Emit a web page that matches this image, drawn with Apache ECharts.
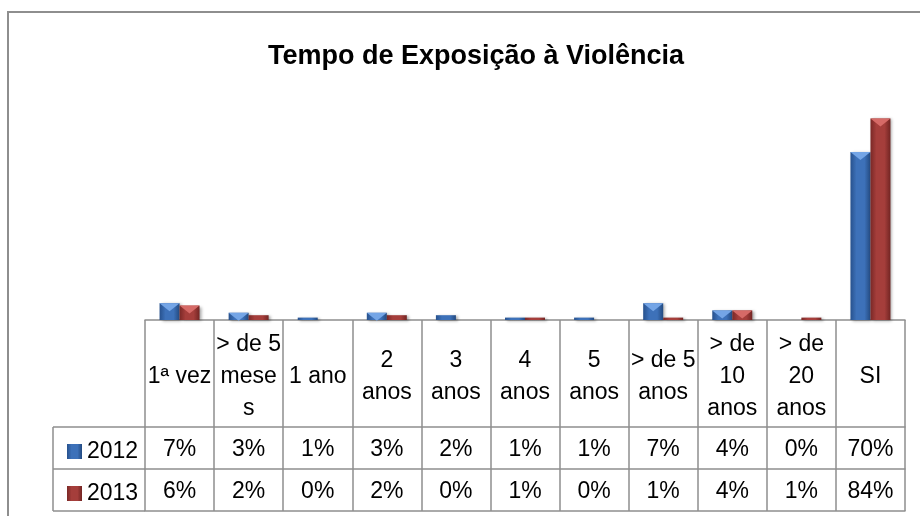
<!DOCTYPE html>
<html><head><meta charset="utf-8">
<script src="https://cdn.jsdelivr.net/npm/echarts@6/dist/echarts.min.js"></script>
<style>html,body{margin:0;padding:0;background:#fff}#c{width:920px;height:516px}</style>
</head><body><div id="c"></div>
<script>
const chartTitle = 'Tempo de Exposição à Violência';
const categories = ['1ª vez', '> de 5\nmese\ns', '1 ano', '2\nanos', '3\nanos', '4\nanos', '5\nanos', '> de 5\nanos', '> de\n10\nanos', '> de\n20\nanos', 'SI'];
const seriesNames = ['2012', '2013'];
const values2012 = [7, 3, 1, 3, 2, 1, 1, 7, 4, 0, 70];
const values2013 = [6, 2, 0, 2, 0, 1, 0, 1, 4, 1, 84];

const FONT = '"Liberation Sans", Arial, sans-serif';
const LINE = '#8e8e8e';
const GRID_LEFT = 145, GRID_RIGHT = 15, GRID_TOP = 80, GRID_BOTTOM = 196;
const HEADER_H = 107, ROW_H = 42;
const LEG_LEFT = 53;
const FLOOR = 516 - GRID_BOTTOM;

const blueGrad = new echarts.graphic.LinearGradient(0, 0, 1, 0, [
  {offset: 0, color: '#27518d'}, {offset: 0.3, color: '#3d71b9'},
  {offset: 0.7, color: '#3d71b9'}, {offset: 1, color: '#234a80'}]);
const redGrad = new echarts.graphic.LinearGradient(0, 0, 1, 0, [
  {offset: 0, color: '#7a2826'}, {offset: 0.3, color: '#a53e3b'},
  {offset: 0.7, color: '#a53e3b'}, {offset: 1, color: '#722523'}]);

const pct = v => v + '%';
const bevel = arr => arr.map(v => (v >= 3 ? v : '-'));

const tableAxis = (offset, vals, showLabel) => ({
  type: 'category', data: vals, gridIndex: 0, position: 'bottom', offset: offset,
  axisLine: {show: true, lineStyle: {color: LINE, width: 1.5}},
  axisTick: {show: false},
  axisLabel: {show: showLabel, interval: 0, margin: ROW_H / 2 + 2, verticalAlign: 'middle',
    fontFamily: FONT, fontSize: 23, color: '#000'}
});

const chart = echarts.init(document.getElementById('c'));
chart.setOption({
  animation: false,
  backgroundColor: '#fff',
  title: {text: chartTitle, left: 471, top: 38, textAlign: 'center',
    textStyle: {fontFamily: FONT, fontSize: 27, fontWeight: 'bold', color: '#000'}},
  legend: {data: seriesNames, orient: 'vertical', left: 62, top: FLOOR + HEADER_H + ROW_H / 2 - 13,
    itemGap: ROW_H - 23, icon: 'rect', itemWidth: 15, itemHeight: 15, selectedMode: false,
    textStyle: {fontFamily: FONT, fontSize: 23, lineHeight: 23, color: '#000'}},
  grid: {left: GRID_LEFT, right: GRID_RIGHT, top: GRID_TOP, bottom: GRID_BOTTOM},
  xAxis: [
    {type: 'category', data: categories,
      axisLine: {show: true, lineStyle: {color: LINE, width: 1.5}},
      axisTick: {show: true, interval: 0, length: HEADER_H + 2 * ROW_H, lineStyle: {color: LINE, width: 1.5}},
      axisLabel: {interval: 0, margin: HEADER_H / 2 + 3, verticalAlign: 'middle', lineHeight: 32,
        fontFamily: FONT, fontSize: 23, color: '#000', hideOverlap: false}},
    tableAxis(HEADER_H, values2012.map(pct), true),
    tableAxis(HEADER_H + ROW_H, values2013.map(pct), true),
    tableAxis(HEADER_H + 2 * ROW_H, categories.map(() => ''), false)
  ],
  yAxis: {type: 'value', min: 0, max: 100, show: false, splitLine: {show: false}},
  series: [
    {name: seriesNames[0], type: 'bar', data: values2012, barWidth: 20, barGap: '0%',
      itemStyle: {color: blueGrad, shadowBlur: 3, shadowColor: 'rgba(0,0,0,0.35)', shadowOffsetX: 2, shadowOffsetY: 1}},
    {name: seriesNames[1], type: 'bar', data: values2013, barWidth: 20, barGap: '0%',
      itemStyle: {color: redGrad, shadowBlur: 3, shadowColor: 'rgba(0,0,0,0.35)', shadowOffsetX: 2, shadowOffsetY: 1}},
    {name: 'bevel2012', type: 'pictorialBar', data: bevel(values2012), barWidth: 20, barGap: '0%',
      symbol: 'path://M0,0 L20,0 L10,8 Z', symbolSize: [20, 8], symbolPosition: 'end', z: 5,
      itemStyle: {color: '#74a5e6'}},
    {name: 'bevel2013', type: 'pictorialBar', data: bevel(values2013), barWidth: 20, barGap: '0%',
      symbol: 'path://M0,0 L20,0 L10,8 Z', symbolSize: [20, 8], symbolPosition: 'end', z: 5,
      itemStyle: {color: '#d66a67'}}
  ],
  graphic: [
    {type: 'rect', shape: {x: 8, y: 12, width: 1000, height: 1000}, silent: true,
      style: {fill: 'none', stroke: LINE, lineWidth: 2}},
    {type: 'line', shape: {x1: LEG_LEFT, y1: FLOOR + HEADER_H, x2: GRID_LEFT, y2: FLOOR + HEADER_H},
      style: {stroke: LINE, lineWidth: 1.5}},
    {type: 'line', shape: {x1: LEG_LEFT, y1: FLOOR + HEADER_H + ROW_H, x2: GRID_LEFT, y2: FLOOR + HEADER_H + ROW_H},
      style: {stroke: LINE, lineWidth: 1.5}},
    {type: 'line', shape: {x1: LEG_LEFT, y1: FLOOR + HEADER_H + 2 * ROW_H, x2: GRID_LEFT, y2: FLOOR + HEADER_H + 2 * ROW_H},
      style: {stroke: LINE, lineWidth: 1.5}},
    {type: 'line', shape: {x1: LEG_LEFT, y1: FLOOR + HEADER_H, x2: LEG_LEFT, y2: FLOOR + HEADER_H + 2 * ROW_H},
      style: {stroke: LINE, lineWidth: 1.5}}
  ]
});
</script></body></html>
